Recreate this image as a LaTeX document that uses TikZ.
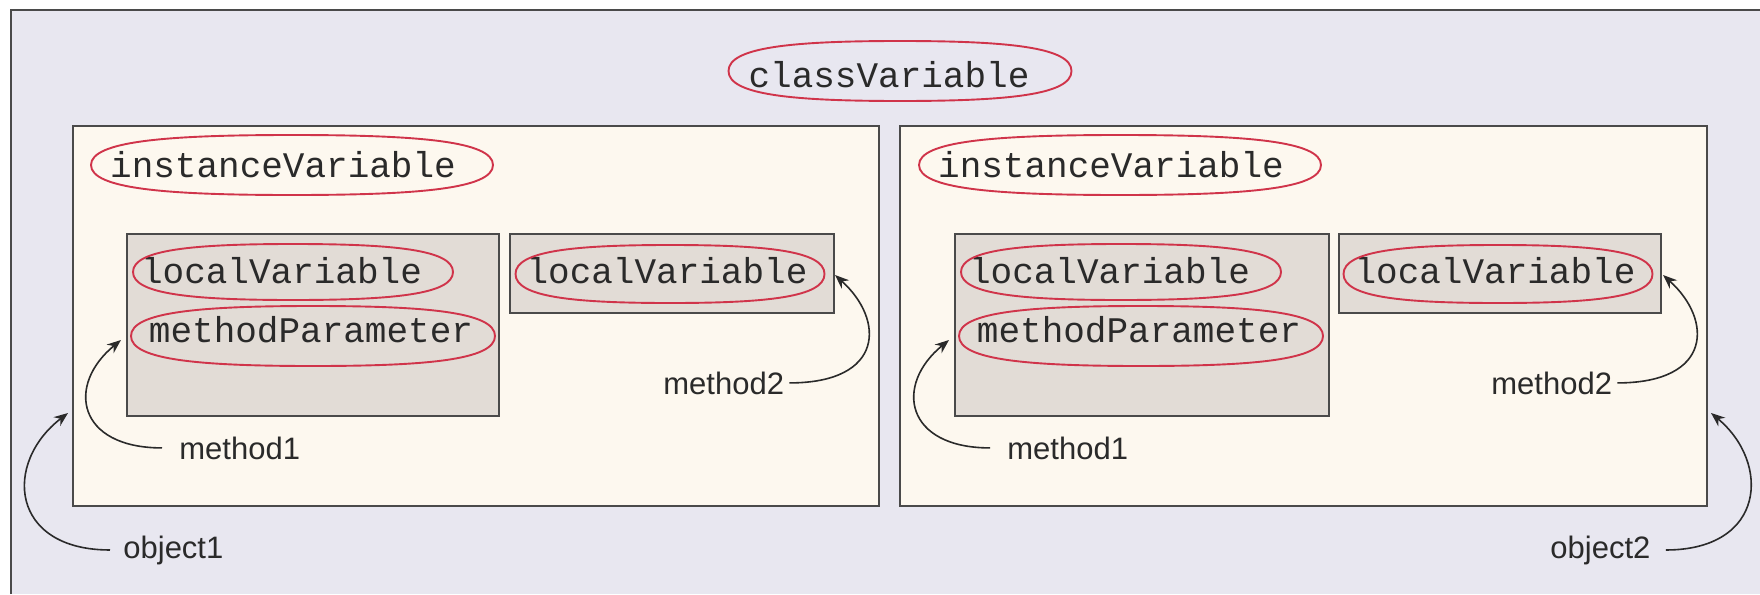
\documentclass[tikz,border=0pt]{standalone}
\usepackage{fontspec}
\setmainfont{Liberation Sans}
\newfontfamily\codefont{Liberation Mono}
\usetikzlibrary{arrows.meta,calc}
\definecolor{framebg}{HTML}{E8E7F0}
\definecolor{objfill}{HTML}{FDF8EF}
\definecolor{methfill}{HTML}{E2DCD6}
\definecolor{ovalred}{HTML}{D0344A}
\definecolor{edgegray}{HTML}{4A4A4A}
\definecolor{ink}{HTML}{2A2A2A}
\newcommand{\ovaldraw}[1]{%
  \draw[ovalline] (#1.east)
   .. controls ($(#1.east)!0.8!(#1.north east)$) and ($(#1.north)!0.62!(#1.north east)$) .. (#1.north)
   .. controls ($(#1.north)!0.62!(#1.north west)$) and ($(#1.west)!0.8!(#1.north west)$) .. (#1.west)
   .. controls ($(#1.west)!0.8!(#1.south west)$) and ($(#1.south)!0.62!(#1.south west)$) .. (#1.south)
   .. controls ($(#1.south)!0.62!(#1.south east)$) and ($(#1.east)!0.8!(#1.south east)$) .. (#1.east) -- cycle;}
\begin{document}
\begin{tikzpicture}[x=0.5pt,y=-0.5pt,
 objbox/.style={draw=edgegray, line width=1pt, fill=objfill, rectangle, inner sep=0pt, outer sep=0pt},
 methbox/.style={draw=edgegray, line width=1pt, fill=methfill, rectangle, inner sep=0pt, outer sep=0pt},
 oval/.style={rectangle, draw=none, inner sep=0pt, outer sep=0pt},
 ovalline/.style={draw=ovalred, line width=0.95pt},
 code/.style={font=\codefont\fontsize{18pt}{20pt}\selectfont, text=ink, inner sep=0pt, anchor=base},
 lbl/.style={font=\fontsize{15.5pt}{17pt}\selectfont, text=ink, inner sep=0pt},
 conn/.style={draw=ink, line width=0.8pt, -{Stealth[length=7pt,width=5.5pt]}},
]
\useasboundingbox (0,0) rectangle (1760,594);
\fill[framebg] (11,10) rectangle (1760,594);
\draw[edgegray, line width=1pt] (11,594) -- (11,10) -- (1760,10);

% class variable
\node[oval, minimum width=171.5pt, minimum height=30pt] (cvo) at (900,71) {};
\ovaldraw{cvo}
\node[code] (cvt) at (889,87) {classVariable};

% object boxes
\node[objbox, minimum width=403pt, minimum height=190pt] (obj1) at (476,316) {};
\node[objbox, minimum width=403.5pt, minimum height=190pt] (obj2) at (1303.5,316) {};

% left object
\node[oval, minimum width=201pt, minimum height=30pt] (ivoL) at (292,165) {};
\node[code] (ivtL) at (283,177) {instanceVariable};
\node[methbox, minimum width=186pt, minimum height=91pt] (m1L) at (313,325) {};
\node[methbox, minimum width=162pt, minimum height=39.5pt] (m2L) at (672,273.5) {};
\node[oval, minimum width=160pt, minimum height=28pt] (lv1oL) at (293,272) {};
\node[code] (lv1tL) at (281.5,283) {localVariable};
\node[oval, minimum width=182pt, minimum height=30pt] (mpoL) at (313,336) {};
\node[code] (mptL) at (311,342) {methodParameter};
\node[oval, minimum width=154.5pt, minimum height=29pt] (lv2oL) at (670,274) {};
\node[code] (lv2tL) at (667,283) {localVariable};

% right object
\node[oval, minimum width=201pt, minimum height=30pt] (ivoR) at (1120,165) {};
\node[code] (ivtR) at (1111,177) {instanceVariable};
\node[methbox, minimum width=187pt, minimum height=91pt] (m1R) at (1142,325) {};
\node[methbox, minimum width=161pt, minimum height=39.5pt] (m2R) at (1500,273.5) {};
\node[oval, minimum width=160pt, minimum height=28pt] (lv1oR) at (1121,272) {};
\node[code] (lv1tR) at (1109.5,283) {localVariable};
\node[oval, minimum width=182pt, minimum height=30pt] (mpoR) at (1141,336) {};
\node[code] (mptR) at (1139,342) {methodParameter};
\node[oval, minimum width=154.5pt, minimum height=29pt] (lv2oR) at (1498,274) {};
\node[code] (lv2tR) at (1495,283) {localVariable};

\ovaldraw{ivoL}\ovaldraw{lv1oL}\ovaldraw{mpoL}\ovaldraw{lv2oL}
\ovaldraw{ivoR}\ovaldraw{lv1oR}\ovaldraw{mpoR}\ovaldraw{lv2oR}

% labels
\node[lbl, anchor=base west] (m1lL) at (179,459) {method1};
\node[lbl, anchor=base west] (m2lL) at (663,394) {method2};
\node[lbl, anchor=base west] (o1l) at (123,558) {object1};
\node[lbl, anchor=base west] (m1lR) at (1007,459) {method1};
\node[lbl, anchor=base west] (m2lR) at (1491,394) {method2};
\node[lbl, anchor=base west] (o2l) at (1550,558) {object2};

% arrow tips
\coordinate (m1tipL) at (121,340);
\coordinate (m2tipL) at (835,275);
\coordinate (o1tip) at (68,413);
\coordinate (m1tipR) at (949,340);
\coordinate (m2tipR) at (1663,275);
\coordinate (o2tip) at (1711,413);

% connectors
\draw[conn] ([xshift=-8.5pt]m1lL.west) .. controls +(-85,0) and +(-55,45) .. (m1tipL);
\draw[conn] ([xshift=2.5pt]m2lL.east) .. controls +(95,0) and +(50,45) .. (m2tipL);
\draw[conn] ([xshift=-6.5pt]o1l.west) .. controls +(-100,0) and +(-65,50) .. (o1tip);
\draw[conn] ([xshift=-8.5pt]m1lR.west) .. controls +(-85,0) and +(-55,45) .. (m1tipR);
\draw[conn] ([xshift=2.5pt]m2lR.east) .. controls +(95,0) and +(50,45) .. (m2tipR);
\draw[conn] ([xshift=7.5pt]o2l.east) .. controls +(100,0) and +(60,50) .. (o2tip);
\end{tikzpicture}
\end{document}
